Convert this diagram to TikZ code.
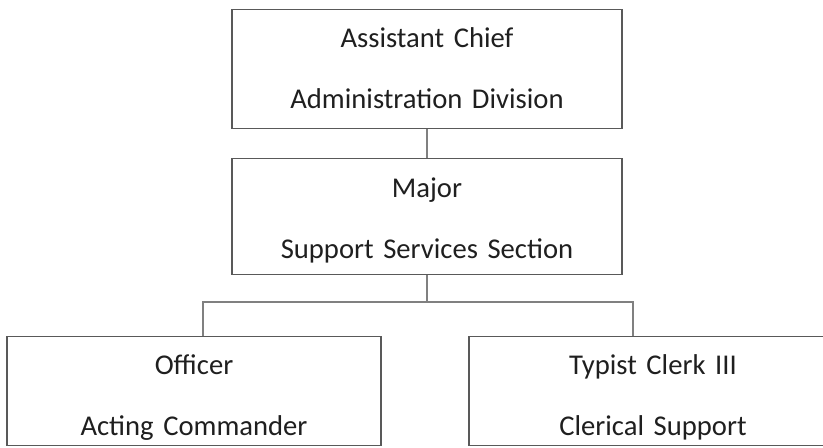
\documentclass[tikz,border=0pt]{standalone}
\usepackage{fontspec}
\setmainfont{Carlito}
\usetikzlibrary{calc}

\tikzset{
  post/.style={draw=black!65, line width=0.7pt, inner sep=0pt, align=center,
    text=black!88, font=\fontsize{16.3}{34.7}\selectfont, anchor=north},
  link/.style={draw=black!50, line width=0.6pt}
}

\begin{document}
\begin{tikzpicture}
    \clip (0,0) rectangle (16.46,8.94);
    \fill[white] (0,0) rectangle (16.46,8.94);

    % chain of command
    \node[post, text width=7.8cm, text height=0.76cm, text depth=1.62cm] (chief) at (8.54,8.76)
      {Assistant Chief\\Administration Division};
    \node[post, text width=7.8cm, text height=0.78cm, text depth=1.54cm] (major) at (8.54,5.78)
      {Major\\Support Services Section};
    \node[post, text width=7.48cm, text height=0.76cm, text depth=1.42cm] (officer) at (3.88,2.22)
      {Officer\\Acting Commander};
    \node[post, text width=7.36cm, text height=0.76cm, text depth=1.42cm] (typist) at (13.06,2.22)
      {Typist Clerk III\\Clerical Support};

    % connectors
    \coordinate (bus) at (8.54,2.90);
    \draw[link] (chief) -- (major);
    \draw[link] (major) -- (bus);
    \draw[link] ([xshift=0.18cm]officer.north) |- (bus) -| ([xshift=-0.4cm]typist.north);
\end{tikzpicture}
\end{document}
